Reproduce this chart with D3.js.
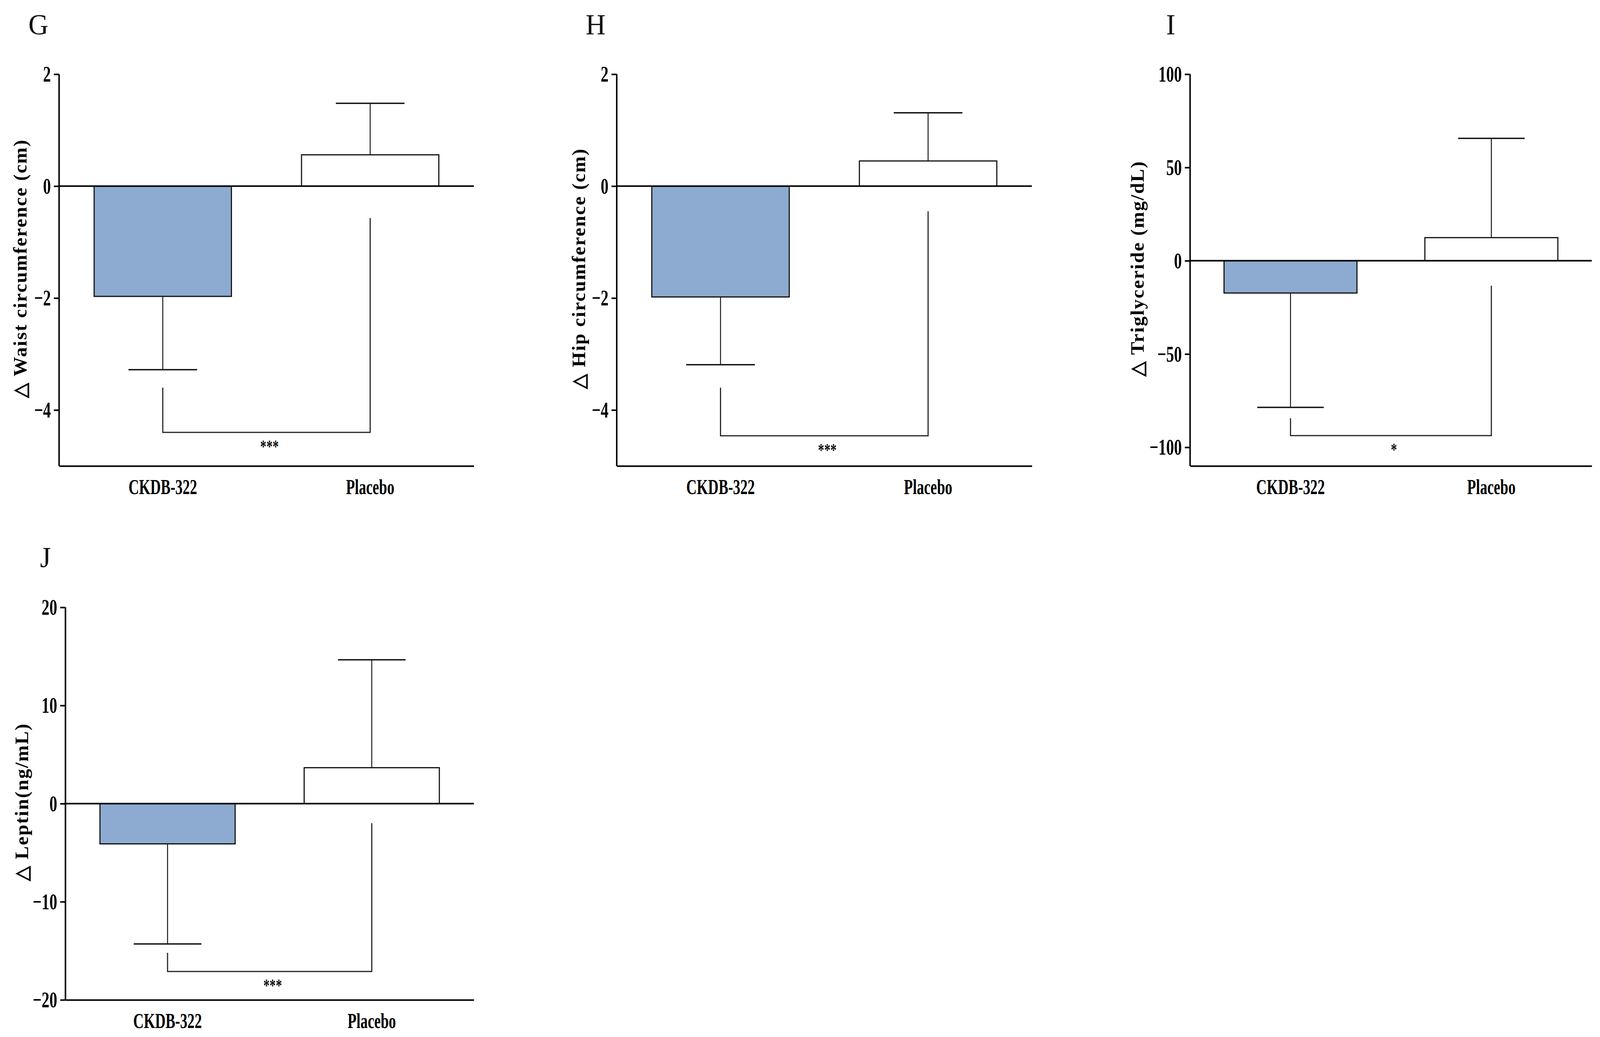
<!DOCTYPE html>
<html><head><meta charset="utf-8">
<script src="https://cdn.jsdelivr.net/npm/d3@7"></script>
<style>html,body{margin:0;padding:0;background:#fff;overflow:hidden} svg{display:block}</style>
</head><body>
<script>
// ---- data ----
const panelLetters = ["G", "H", "I", "J"];
const categories = ["CKDB-322", "Placebo"];
const yTitles = ["△ Waist circumference  (cm)", "△ Hip circumference (cm)", "△ Triglyceride (mg/dL)", "△ Leptin(ng/mL)"];
const yDomains = [[-5, 2], [-5, 2], [-110, 100], [-20, 20]];
const yTicks = [[-4, -2, 0, 2], [-4, -2, 0, 2], [-100, -50, 0, 50, 100], [-20, -10, 0, 10, 20]];
const meanWaist = [-1.97, 0.56];
const errWaist = [1.31, 0.92];
const meanHip = [-1.98, 0.45];
const errHip = [1.21, 0.86];
const meanTG = [-17.3, 12.4];
const errTG = [61.3, 53.2];
const meanLeptin = [-4.1, 3.66];
const errLeptin = [10.2, 11.0];
const bracketLeftTop = [-3.60, -3.60, -84.4, -15.2];
const bracketLevel = [-4.40, -4.46, -93.7, -17.1];
const bracketRightTop = [-0.57, -0.45, -13.4, -2.0];
const sigLabels = ["***", "***", "*", "***"];

const means = [meanWaist, meanHip, meanTG, meanLeptin];
const errs = [errWaist, errHip, errTG, errLeptin];

// ---- layout ----
const W = 4278, H = 2655;
const layout = [
  {left: 158, right: 1267, top: 190, bottom: 1193, titleX: 54, letterX: 76, letterY: 88},
  {left: 1649, right: 2759, top: 190, bottom: 1193, titleX: 1548, letterX: 1566, letterY: 88},
  {left: 3182, right: 4256, top: 190, bottom: 1193, titleX: 3041, letterX: 3118, letterY: 88},
  {left: 175, right: 1267, top: 1555, bottom: 2560, titleX: 58, letterX: 107, letterY: 1452}
];
const SX = 0.72; // horizontal condensation of bold labels
const FONT = "'Liberation Serif', 'Times New Roman', serif";
const BLUE = "#8DABD0";

const svg = d3.select("body").append("svg")
  .attr("viewBox", `0 0 ${W} ${H}`)
  .attr("preserveAspectRatio", "none")
  .style("width", "100vw").style("height", "100vh")
  .style("font-family", FONT);

panelLetters.forEach((letter, i) => {
  const L = layout[i];
  const g = svg.append("g");
  const y = d3.scaleLinear().domain(yDomains[i]).range([L.bottom, L.top]);
  const x = d3.scaleBand().domain(categories).range([L.left, L.right])
    .paddingInner(0.338).paddingOuter(0.169);
  const bw = x.bandwidth();

  // panel letter
  g.append("text").attr("x", L.letterX).attr("y", L.letterY)
    .attr("font-size", 74).attr("fill", "#111").text(letter);

  // bars
  g.selectAll("rect.bar").data(categories).join("rect")
    .attr("x", d => x(d))
    .attr("width", bw)
    .attr("y", (d, j) => y(Math.max(0, means[i][j])))
    .attr("height", (d, j) => Math.abs(y(means[i][j]) - y(0)))
    .attr("fill", (d, j) => j === 0 ? BLUE : "#fff")
    .attr("stroke", "#111").attr("stroke-width", 3);

  // error bars (away from zero)
  categories.forEach((c, j) => {
    const m = means[i][j], e = errs[i][j];
    const end = m < 0 ? m - e : m + e;
    const cx = x(c) + bw / 2;
    g.append("line").attr("x1", cx).attr("x2", cx)
      .attr("y1", y(m)).attr("y2", y(end))
      .attr("stroke", "#111").attr("stroke-width", 2.5);
    g.append("line").attr("x1", cx - bw / 4).attr("x2", cx + bw / 4)
      .attr("y1", y(end)).attr("y2", y(end))
      .attr("stroke", "#111").attr("stroke-width", 3.5);
  });

  // zero line
  g.append("line").attr("x1", L.left).attr("x2", L.right)
    .attr("y1", y(0)).attr("y2", y(0))
    .attr("stroke", "#000").attr("stroke-width", 4);

  // significance bracket
  const c0 = x(categories[0]) + bw / 2, c1 = x(categories[1]) + bw / 2;
  g.append("path")
    .attr("d", `M${c0},${y(bracketLeftTop[i])}V${y(bracketLevel[i])}H${c1}V${y(bracketRightTop[i])}`)
    .attr("fill", "none").attr("stroke", "#222").attr("stroke-width", 3);
  g.append("text")
    .attr("transform", `translate(${(c0 + c1) / 2 + 8},${y(bracketLevel[i]) + 52}) scale(${SX},1)`)
    .attr("text-anchor", "middle").attr("font-size", 46).attr("font-weight", "bold")
    .attr("fill", "#111").text(sigLabels[i]);

  // y axis
  const ya = g.append("g").attr("transform", `translate(${L.left},0)`)
    .call(d3.axisLeft(y).tickValues(yTicks[i]).tickFormat(d3.format("d"))
      .tickSize(14).tickPadding(8).tickSizeOuter(0));
  ya.select(".domain").attr("stroke", "#000").attr("stroke-width", 4)
    .attr("d", `M0,${L.bottom}V${L.top}`);
  ya.selectAll(".tick line").attr("stroke", "#000").attr("stroke-width", 4);
  ya.selectAll(".tick text")
    .attr("x", -22 / SX).attr("transform", `scale(${SX},1)`)
    .attr("font-size", 58).attr("font-weight", "bold").attr("fill", "#000")
    .attr("font-family", FONT);

  // x axis
  const xa = g.append("g").attr("transform", `translate(0,${L.bottom})`)
    .call(d3.axisBottom(x).tickSize(0).tickPadding(34).tickSizeOuter(0));
  xa.select(".domain").attr("stroke", "#000").attr("stroke-width", 4);
  xa.selectAll(".tick text")
    .attr("transform", `scale(${SX},1)`)
    .attr("font-size", 54).attr("font-weight", "bold").attr("fill", "#000")
    .attr("font-family", FONT);

  // y title
  const ty = (L.top + L.bottom) / 2 - 4;
  g.append("text")
    .attr("transform", `translate(${L.titleX},${ty}) rotate(-90)`)
    .attr("text-anchor", "middle").attr("dominant-baseline", "central")
    .attr("font-size", 50).attr("font-weight", "bold").attr("letter-spacing", 2.5)
    .attr("fill", "#000").text(yTitles[i]);
});
</script>
</body></html>
